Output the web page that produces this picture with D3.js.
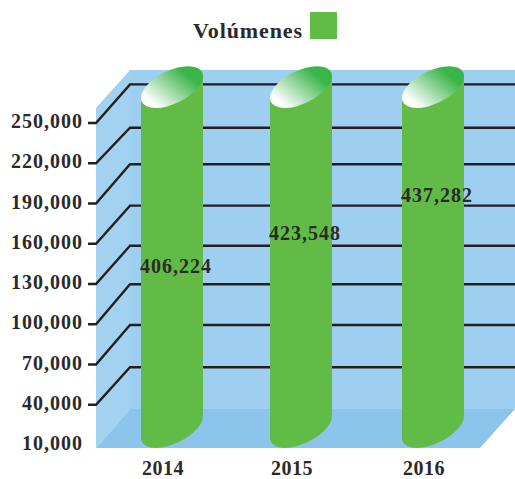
<!DOCTYPE html>
<html>
<head>
<meta charset="utf-8">
<script src="https://cdn.jsdelivr.net/npm/d3@7"></script>
<style>
  html, body { margin: 0; padding: 0; background: #fff; overflow: hidden; }
  svg { display: block; }
  text { font-family: "Liberation Serif", serif; font-weight: bold; fill: #2b2a29; }
</style>
</head>
<body>
<div id="container"></div>
<script>
let w = 515;
let h = 479;

// values
let years = ["2014", "2015", "2016"];
let volumes = [406224, 423548, 437282];
let ticks = [10000, 40000, 70000, 100000, 130000, 160000, 190000, 220000, 250000];
// the cylinders and their labels do not follow the axis, so these are where they sit on it
let cylinderTops = [276800, 276800, 276800];
let labelLevels = [142700, 167300, 195600];
// level of each grid line once it reaches the back wall, same order as ticks.slice(1)
let backLevels = [67900, 99400, 129800, 158500, 188400, 219200, 246500, 278800];
let legendName = "Volúmenes";

let green = "#62bb46";
let floorY = 448;

let viz = d3.select("#container").append("svg")
    .attr("width", w)
    .attr("height", h)
;

let y = d3.scaleLinear().domain([10000, 250000]).range([445, 123]);
let x = d3.scaleOrdinal().domain(years).range([172, 301, 433]);

let defs = viz.append("defs");
let grad = defs.append("linearGradient")
    .attr("id", "capGrad")
    .attr("x1", "0.06").attr("y1", "0.6")
    .attr("x2", "0.88").attr("y2", "0.42")
;
grad.append("stop").attr("offset", "0.06").attr("stop-color", "#ffffff");
grad.append("stop").attr("offset", "0.9").attr("stop-color", "#3ab54a");

// walls and floor
viz.append("rect")
    .attr("x", 130).attr("y", 70)
    .attr("width", w - 130).attr("height", 339)
    .attr("fill", "#9ecff0")
;
viz.append("path")
    .attr("d", "M96,108 L130,70 L130,409 L96,448 Z")
    .attr("fill", "#a3d2f1")
;
viz.append("path")
    .attr("d", "M96,448 L130,409 L515,409 L480,448 Z")
    .attr("fill", "#8cc4ec")
;

// grid lines run along the side wall and then the back wall
let grid = viz.append("g");
grid.selectAll("path").data(ticks.slice(1)).enter()
    .append("path")
    .attr("d", function(d,i){
      let back = y(backLevels[i]);
      return "M88," + y(d) + " L96," + y(d) + " L130," + back + " L" + w + "," + back;
    })
    .attr("fill", "none")
    .attr("stroke", "#231f20")
    .attr("stroke-width", 2.4)
;

// axis labels
viz.selectAll(".tick").data(ticks).enter()
    .append("text")
    .attr("class", "tick")
    .text(function(d){ return d3.format(",")(d); })
    .attr("x", 83)
    .attr("y", function(d){ return y(d) + 5; })
    .attr("text-anchor", "end")
    .attr("font-size", 20)
    .attr("letter-spacing", 1)
;

// cylinders, the ends are slanted so the sides stop at the ellipse extremes
let bars = viz.selectAll(".bar").data(years).enter()
    .append("g")
    .attr("class", "bar")
;
bars.append("path")
    .attr("d", function(d,i){
      let top = y(cylinderTops[i]);
      let l = x(d) - 31;
      let r = x(d) + 31;
      return "M" + l + "," + (top + 9) + " L" + r + "," + (top - 13)
        + " L" + r + "," + (floorY - 34) + " L" + l + "," + (floorY - 9) + " Z";
    })
    .attr("fill", green)
;
bars.append("ellipse")
    .attr("rx", 33.6)
    .attr("ry", 16.5)
    .attr("transform", function(d){ return "translate(" + x(d) + "," + (floorY - 21) + ") rotate(-26)"; })
    .attr("fill", green)
;
bars.append("ellipse")
    .attr("rx", 33.6)
    .attr("ry", 16.5)
    .attr("transform", function(d,i){ return "translate(" + x(d) + "," + y(cylinderTops[i]) + ") rotate(-26)"; })
    .attr("fill", "url(#capGrad)")
;

// value labels
viz.selectAll(".value").data(volumes).enter()
    .append("text")
    .attr("class", "value")
    .text(function(d){ return d3.format(",")(d); })
    .attr("x", function(d,i){ return x(years[i]) + 4; })
    .attr("y", function(d,i){ return y(labelLevels[i]) + 6; })
    .attr("text-anchor", "middle")
    .attr("font-size", 20)
    .attr("letter-spacing", 1)
;

// year labels
viz.selectAll(".year").data(years).enter()
    .append("text")
    .attr("class", "year")
    .text(function(d){ return d; })
    .attr("x", function(d){ return x(d) - 9; })
    .attr("y", 474.5)
    .attr("text-anchor", "middle")
    .attr("font-size", 20)
    .attr("letter-spacing", 0.5)
;

// legend
viz.append("text")
    .text(legendName)
    .attr("x", 303)
    .attr("y", 38)
    .attr("text-anchor", "end")
    .attr("font-size", 22)
    .attr("letter-spacing", 0.9)
;
viz.append("rect")
    .attr("x", 310).attr("y", 12)
    .attr("width", 27).attr("height", 27)
    .attr("fill", green)
;
</script>
</body>
</html>
